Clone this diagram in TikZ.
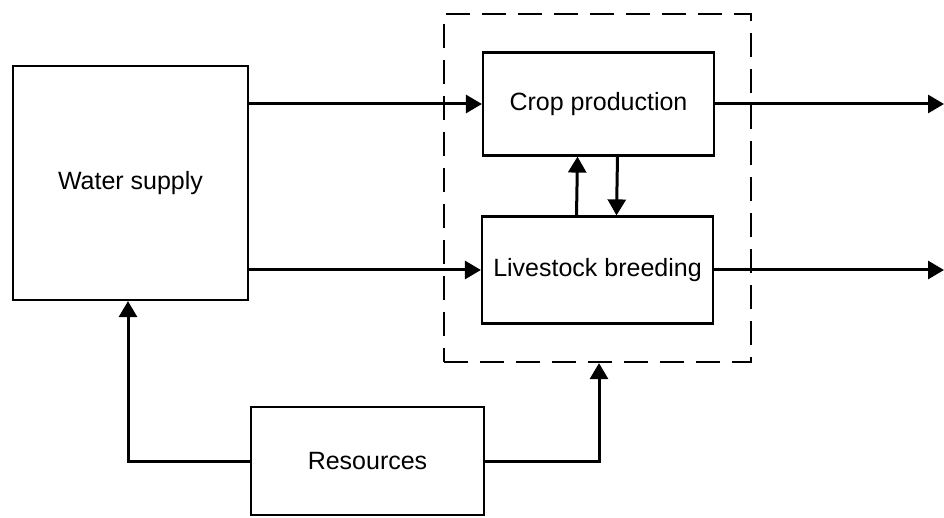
\documentclass[tikz,border=0pt]{standalone}
\usepackage{fontspec}
\setmainfont{Liberation Sans}
\usetikzlibrary{arrows.meta,calc}
\tikzset{
  blk/.style={draw, line width=2.2pt, rectangle, inner sep=0pt, font=\fontsize{25}{29}\selectfont},
  grp/.style={draw, line width=2.2pt, dash pattern=on 24pt off 12pt, rectangle, inner sep=0pt},
  arr/.style={line width=3pt, -{Triangle[length=16pt,width=18pt]}},
  ln/.style={line width=3pt}
}
\begin{document}
\begin{tikzpicture}[x=1pt,y=-1pt]
\useasboundingbox (0,0) rectangle (944,518);
\node[grp, minimum width=307pt, minimum height=348pt] (group) at (597.5,188) {};
\node[blk, fill=white, minimum width=235pt, minimum height=234pt] (water) at (130.5,183) {Water supply};
\node[blk, fill=white, minimum width=231pt, minimum height=103pt] (crop) at (598.5,104) {Crop production};
\node[blk, fill=white, minimum width=231pt, minimum height=107pt] (live) at (597.5,270) {Livestock breeding};
\node[blk, fill=white, minimum width=233pt, minimum height=108pt] (res) at (367.5,461) {Resources};
\coordinate (out1) at (944,104);
\coordinate (out2) at (944,270);
% water supply to production
\draw[arr] (water.east |- crop.west) -- (crop.west);
\draw[arr] (water.east |- live.west) -- (live.west);
% outputs
\draw[arr] (crop.east) -- (out1);
\draw[arr] (live.east) -- (out2);
% exchange between crop and livestock
\draw[arr] ($(live.north)+(-21,0)$) -- ($(crop.south)+(-21,0)$);
\draw[arr] ($(crop.south)+(19,0)$) -- ($(live.north)+(19,0)$);
% resources
\draw[arr] (res.west) -| ($(water.south)+(-2.5,0)$);
\draw[arr] (res.east) -| ($(group.south)+(1.5,0)$);
\end{tikzpicture}
\end{document}
